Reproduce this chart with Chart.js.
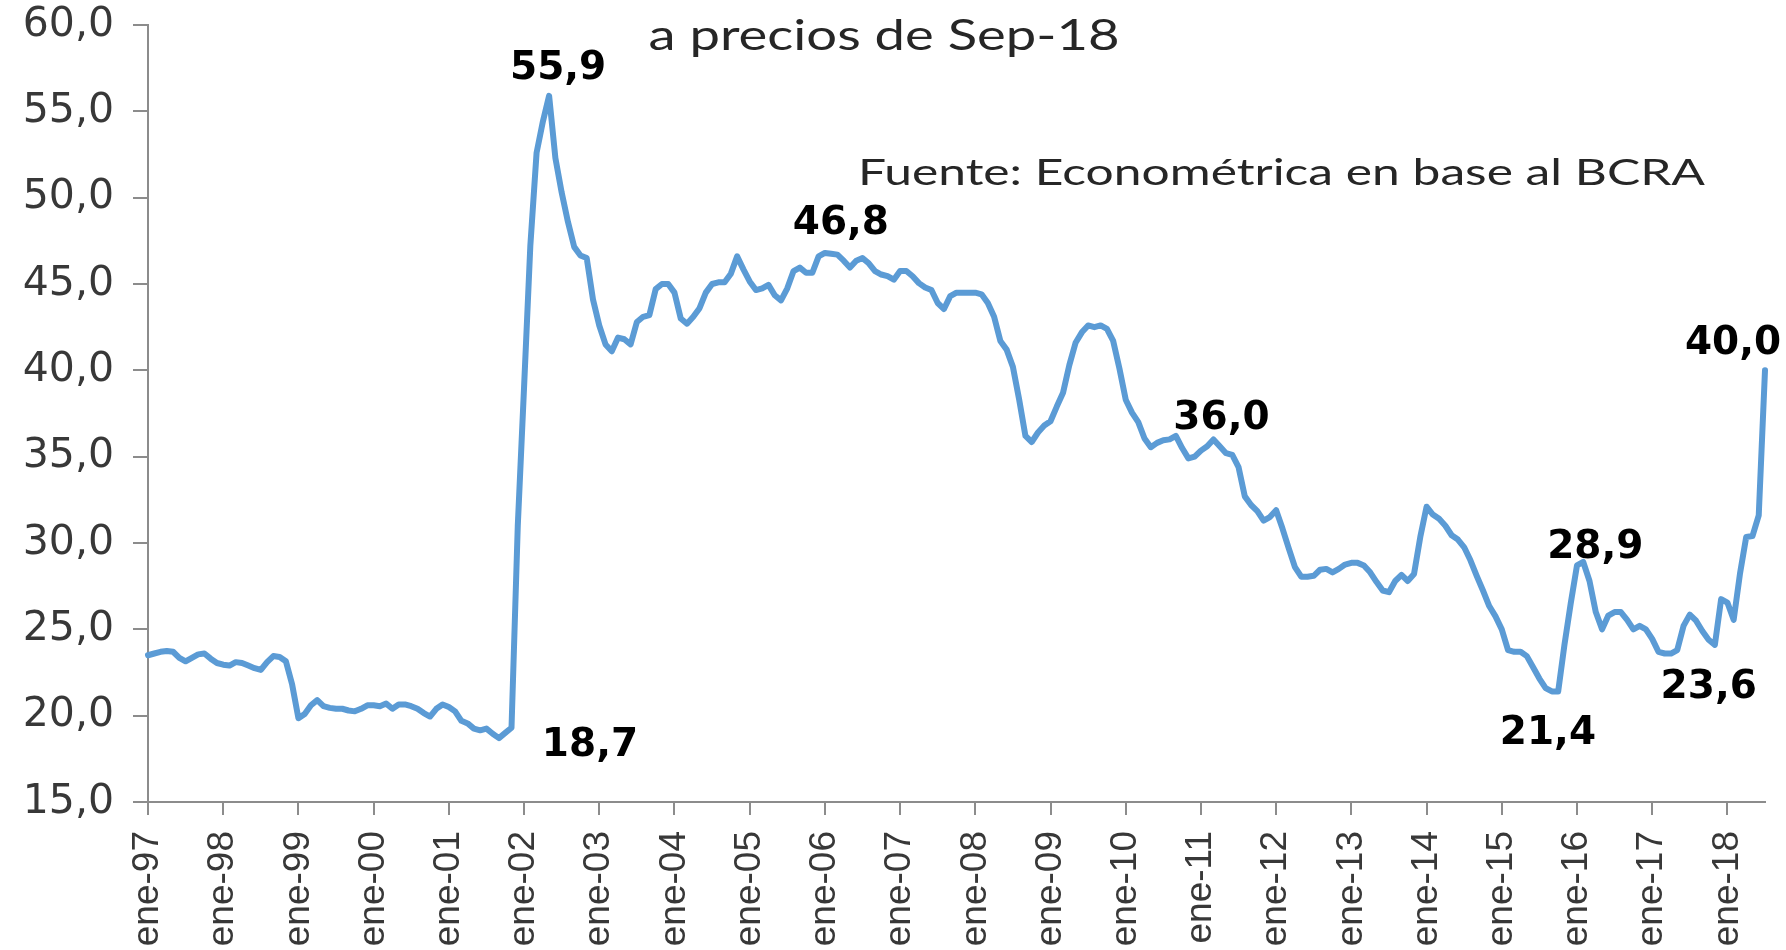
<!DOCTYPE html>
<html>
<head>
<meta charset="utf-8">
<script src="https://cdn.jsdelivr.net/npm/chart.js@4.4.1/dist/chart.umd.min.js"></script>
<style>
  html, body { margin: 0; padding: 0; background: #ffffff; }
  #wrap { width: 1786px; height: 950px; position: relative; }
</style>
</head>
<body>
<div id="wrap"><canvas id="c" width="1786" height="950"></canvas></div>
<script>
// ---- DATA (monthly, real exchange rate at Sep-18 prices) ----
const monthNames = ['ene','feb','mar','abr','may','jun','jul','ago','sep','oct','nov','dic'];
const years = ['97','98','99','00','01','02','03','04','05','06','07','08','09','10','11','12','13','14','15','16','17','18'];

const v1997 = [23.5, 23.6, 23.7, 23.75, 23.7, 23.35, 23.15, 23.35, 23.55, 23.6, 23.3, 23.05];
const v1998 = [22.95, 22.9, 23.1, 23.05, 22.9, 22.75, 22.65, 23.1, 23.45, 23.4, 23.15, 21.8];
const v1999 = [19.85, 20.1, 20.6, 20.9, 20.55, 20.45, 20.4, 20.4, 20.3, 20.25, 20.4, 20.6];
const v2000 = [20.6, 20.55, 20.7, 20.4, 20.65, 20.65, 20.55, 20.4, 20.15, 19.95, 20.4, 20.65];
const v2001 = [20.5, 20.25, 19.7, 19.55, 19.25, 19.15, 19.25, 18.95, 18.7, 19.0, 19.3, 31.0];
const v2002 = [39.0, 47.2, 52.6, 54.4, 55.9, 52.3, 50.3, 48.6, 47.15, 46.65, 46.5, 44.1];
const v2003 = [42.6, 41.5, 41.1, 41.9, 41.8, 41.5, 42.8, 43.1, 43.2, 44.7, 45.0, 45.0];
const v2004 = [44.5, 43.0, 42.7, 43.1, 43.6, 44.5, 45.0, 45.1, 45.1, 45.6, 46.6, 45.85];
const v2005 = [45.15, 44.65, 44.75, 44.95, 44.35, 44.05, 44.75, 45.75, 45.95, 45.65, 45.65, 46.6];
const v2006 = [46.8, 46.75, 46.7, 46.35, 45.95, 46.35, 46.5, 46.2, 45.75, 45.55, 45.45, 45.25];
const v2007 = [45.75, 45.75, 45.45, 45.05, 44.8, 44.65, 43.9, 43.55, 44.3, 44.5, 44.5, 44.5];
const v2008 = [44.5, 44.4, 43.9, 43.1, 41.7, 41.2, 40.2, 38.3, 36.2, 35.85, 36.4, 36.8];
const v2009 = [37.05, 37.9, 38.7, 40.3, 41.6, 42.2, 42.6, 42.5, 42.6, 42.4, 41.7, 40.1];
const v2010 = [38.3, 37.55, 37.0, 36.05, 35.55, 35.8, 35.95, 36.0, 36.2, 35.5, 34.9, 35.0];
const v2011 = [35.35, 35.6, 36.0, 35.6, 35.2, 35.1, 34.4, 32.7, 32.2, 31.85, 31.3, 31.5];
const v2012 = [31.9, 30.85, 29.7, 28.6, 28.05, 28.05, 28.1, 28.45, 28.5, 28.3, 28.5, 28.75];
const v2013 = [28.85, 28.85, 28.7, 28.3, 27.75, 27.25, 27.15, 27.8, 28.15, 27.8, 28.2, 30.35];
const v2014 = [32.1, 31.65, 31.4, 31.0, 30.45, 30.2, 29.75, 29.0, 28.1, 27.25, 26.35, 25.75];
const v2015 = [25.0, 23.8, 23.7, 23.7, 23.45, 22.8, 22.15, 21.6, 21.4, 21.4, 24.1, 26.5];
const v2016 = [28.7, 28.9, 27.8, 26.0, 25.0, 25.8, 26.0, 26.0, 25.55, 25.0, 25.2, 25.0];
const v2017 = [24.45, 23.7, 23.6, 23.6, 23.8, 25.2, 25.85, 25.5, 24.9, 24.4, 24.1, 26.75];
const v2018 = [26.55, 25.55, 28.2, 30.35, 30.4, 31.6, 40.0];

const yearSeries = [v1997, v1998, v1999, v2000, v2001, v2002, v2003, v2004, v2005, v2006, v2007,
                    v2008, v2009, v2010, v2011, v2012, v2013, v2014, v2015, v2016, v2017, v2018];

// categories: one per month present in the series
const categories = [];
const values = [];
yearSeries.forEach((arr, yi) => {
  arr.forEach((v, mi) => {
    categories.push(monthNames[mi] + '-' + years[yi]);
    values.push(v);
  });
});

// highlighted values (labels) and y ticks
const highlightCats = ['may-02', 'sep-01', 'ene-06', 'mar-11', 'feb-16', 'sep-15', 'mar-17', 'jul-18'];
const yTickMin = 15, yTickMax = 60, yTickStep = 5;
const titleText = 'a precios de Sep-18';
const sourceText = 'Fuente: Econométrica en base al BCRA';

// ---- STYLE (label offsets from their point, px) ----
const highlightDX = [9, 91, 16, 8, 12, -4, 44, -32];
const highlightDY = [-27, 8, -29, -21, -14, 42, 34, -26];

const fmt = v => v.toFixed(1).replace('.', ',');

function drawStretched(ctx, text, font, targetW, x, baseline, align, color) {
  ctx.save();
  ctx.font = font;
  ctx.fillStyle = color;
  ctx.textBaseline = 'alphabetic';
  ctx.textAlign = 'left';
  const w = ctx.measureText(text).width;
  const sx = targetW / w;
  ctx.translate(x, baseline);
  ctx.scale(sx, 1);
  ctx.fillText(text, align === 'center' ? -w / 2 : 0, 0);
  ctx.restore();
}

const annotations = {
  id: 'annotations',
  afterDatasetsDraw(chart) {
    const ctx = chart.ctx;
    const meta = chart.getDatasetMeta(0);
    ctx.save();
    ctx.font = 'bold 39px "DejaVu Sans", Verdana, sans-serif';
    ctx.fillStyle = '#000000';
    ctx.textAlign = 'center';
    ctx.textBaseline = 'middle';
    highlightCats.forEach((cat, i) => {
      const idx = categories.indexOf(cat);
      if (idx < 0) return;
      const pt = meta.data[idx];
      ctx.fillText(fmt(values[idx]), pt.x + highlightDX[i], pt.y + highlightDY[i]);
    });
    ctx.restore();
    drawStretched(ctx, titleText, '42px Lato, "Open Sans", sans-serif', 471, 884, 50, 'center', '#262626');
    drawStretched(ctx, sourceText, '37px Lato, "Open Sans", sans-serif', 847, 858, 185, 'left', '#262626');
  }
};

const axisColor = '#8c8c8c';

new Chart(document.getElementById('c'), {
  type: 'line',
  data: {
    labels: categories,
    datasets: [{
      data: values,
      borderColor: '#5b9bd5',
      borderWidth: 6,
      pointRadius: 0,
      pointHoverRadius: 0,
      tension: 0,
      fill: false,
      borderJoinStyle: 'round',
      borderCapStyle: 'round',
      clip: false
    }]
  },
  options: {
    responsive: false,
    animation: false,
    devicePixelRatio: 1,
    layout: { padding: { top: 25, right: 21, left: 0, bottom: 0 } },
    plugins: {
      legend: { display: false },
      tooltip: { enabled: false },
      title: { display: false }
    },
    scales: {
      x: {
        type: 'category',
        offset: false,
        grid: { drawOnChartArea: false, drawTicks: true, tickLength: 13, color: axisColor, lineWidth: 2 },
        border: { display: true, color: axisColor, width: 2 },
        ticks: {
          autoSkip: false,
          minRotation: 90,
          maxRotation: 90,
          padding: 16,
          color: '#383838',
          font: { family: '"Liberation Sans", Arial, sans-serif', size: 37, lineHeight: 0.6 }
        },
        afterBuildTicks(axis) {
          axis.ticks = axis.ticks.filter(t => categories[t.value] && categories[t.value].startsWith('ene-'));
        },
        afterFit(axis) { axis.height = 148; }
      },
      y: {
        type: 'linear',
        min: yTickMin,
        max: yTickMax,
        grid: { drawOnChartArea: false, drawTicks: true, tickLength: 15, color: axisColor, lineWidth: 2 },
        border: { display: true, color: axisColor, width: 2 },
        ticks: {
          stepSize: yTickStep,
          padding: 19,
          color: '#383838',
          font: { family: '"DejaVu Sans", Verdana, sans-serif', size: 41, lineHeight: 0.1 },
          callback: v => fmt(v)
        },
        afterFit(axis) { axis.width = 148; }
      }
    }
  },
  plugins: [annotations]
});
</script>
</body>
</html>
